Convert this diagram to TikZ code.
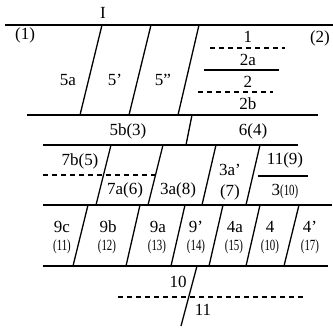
\documentclass[tikz,border=0pt]{standalone}
\usepackage{fontspec}
\setmainfont{Liberation Serif}
\newcommand{\cnd}[1]{\scalebox{0.7}[1]{#1}}
\begin{document}
\begin{tikzpicture}[x=1pt,y=-1pt,
  ln/.style={line width=1.3pt},
  dsh/.style={line width=1.1pt,dash pattern=on 5pt off 4pt},
  lbl/.style={font=\fontsize{17}{19}\selectfont,inner sep=0pt},
  sm/.style={font=\fontsize{15.5}{17}\selectfont,inner sep=0pt}]
\useasboundingbox (0,0) rectangle (333,328);
% horizontal beds
\draw[ln] (5,25) -- (333,25);
\draw[ln] (27,115) -- (318,115);
\draw[ln] (43,145) -- (298,145);
\draw[ln] (43,205) -- (332,205);
\draw[ln] (43,266) -- (328,266);
% row 1 faults
\draw[ln] (102,25) -- (80,115);
\draw[ln] (151,25) -- (129,115);
\draw[ln] (199,25) -- (178,115);
% row 2
\draw[ln] (192,115) -- (186,145);
% row 3
\draw[ln] (111,145) -- (96,205);
\draw[ln] (163,145) -- (148,205);
\draw[ln] (216,145) -- (202,205);
\draw[ln] (260,145) -- (246,205);
% row 4
\draw[ln] (88,205) -- (73,266);
\draw[ln] (140,205) -- (126,266);
\draw[ln] (185,205) -- (171,266);
\draw[ln] (223,205) -- (209,266);
\draw[ln] (260,205) -- (246,266);
\draw[ln] (299,205) -- (284,266);
% row 5
\draw[ln] (197,266) -- (181,326);
% inner boundaries
\draw[dsh] (210,48) -- (285,48);
\draw[ln] (204,70) -- (279,70);
\draw[dsh] (198,92) -- (273,92);
\draw[dsh] (43,175) -- (155,175);
\draw[ln] (258,176) -- (308,176);
\draw[dsh] (118,297) -- (306,297);
% labels
\node[lbl] (tI) at (103,13) {I};
\node[lbl] (t1p) at (25,35) {(1)};
\node[lbl] (t2p) at (320,38) {(2)};
\node[lbl] (t5a) at (68,80) {5a};
\node[lbl] (t5p) at (115,80) {5’};
\node[lbl] (t5pp) at (163,80) {5”};
\node[lbl] (t1) at (248,37) {1};
\node[lbl] (t2a) at (248,60) {2a};
\node[lbl] (t2) at (248,82) {2};
\node[lbl] (t2b) at (248,104) {2b};
\node[lbl] (t5b) at (128,131) {5b(3)};
\node[lbl] (t6) at (253,131) {6(4)};
\node[lbl] (t7b) at (80,161) {7b(5)};
\node[lbl] (t7a) at (125,190) {7a(6)};
\node[lbl] (t3a8) at (178,190) {3a(8)};
\node[lbl] (t3ap) at (230,170) {3a’};
\node[lbl] (t7) at (230,192) {(7)};
\node[lbl] (t11) at (285,160) {11(9)};
\node[lbl] (t3) at (285,192) {3{\fontsize{15.5}{17}\selectfont\cnd{(10)}}};
\node[lbl] (t9c) at (62,227) {9c};
\node[sm] (n11) at (62,247) {\cnd{(11)}};
\node[lbl] (t9b) at (108,227) {9b};
\node[sm] (n12) at (107,247) {\cnd{(12)}};
\node[lbl] (t9a) at (158,227) {9a};
\node[sm] (n13) at (157,247) {\cnd{(13)}};
\node[lbl] (t9p) at (196,227) {9’};
\node[sm] (n14) at (196,247) {\cnd{(14)}};
\node[lbl] (t4a) at (235,227) {4a};
\node[sm] (n15) at (234,247) {\cnd{(15)}};
\node[lbl] (t4) at (270,227) {4};
\node[sm] (n10) at (270,247) {\cnd{(10)}};
\node[lbl] (t4p) at (310,227) {4’};
\node[sm] (n17) at (310,247) {\cnd{(17)}};
\node[lbl] (t10) at (178,282) {10};
\node[lbl] (t11b) at (203,310) {11};
\end{tikzpicture}
\end{document}
